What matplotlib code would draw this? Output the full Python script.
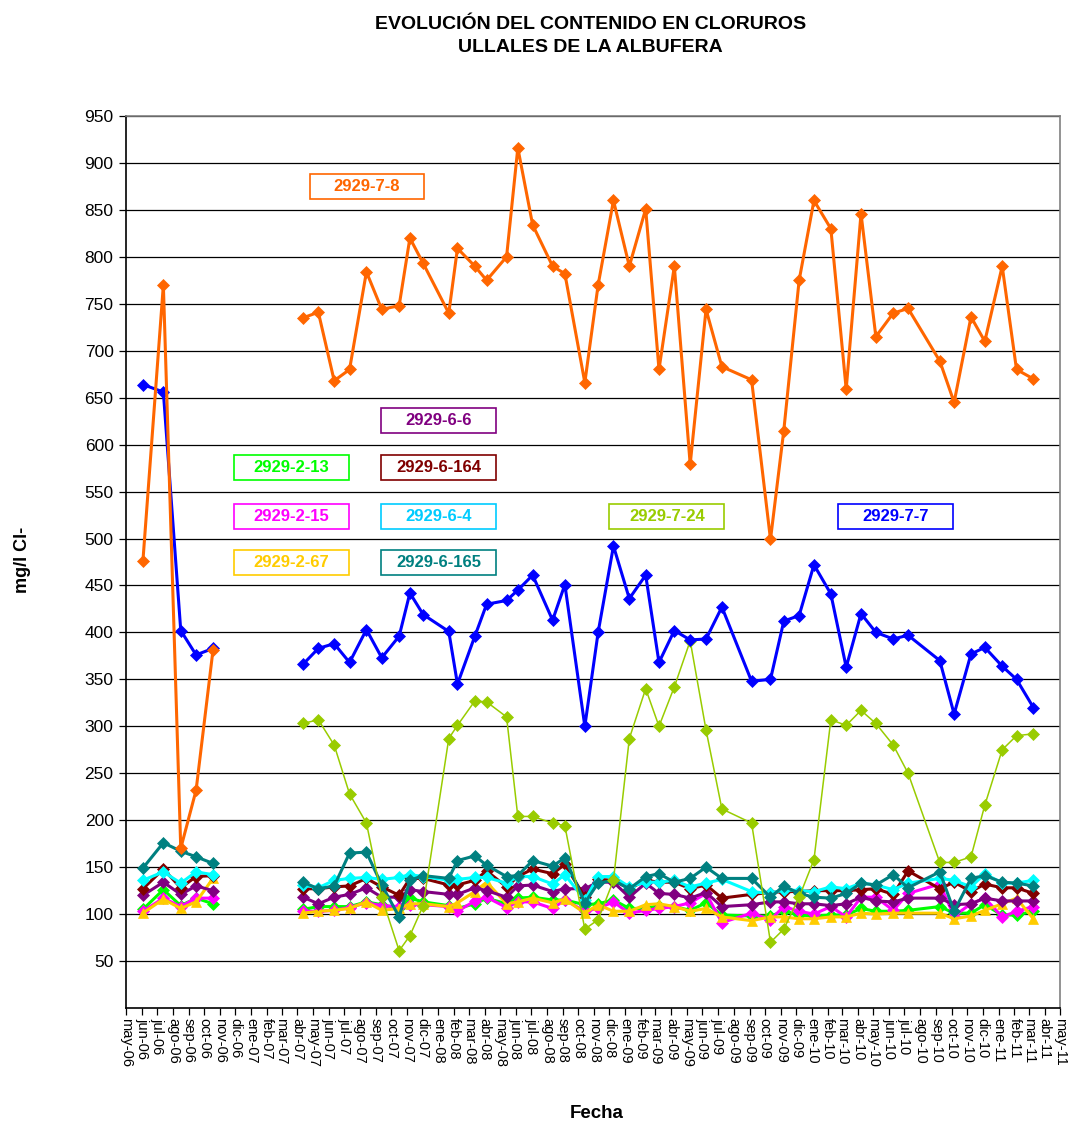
import numpy as np
import pandas as pd
import matplotlib
matplotlib.use('Agg')
import matplotlib.pyplot as plt
import matplotlib.dates as mdates
from matplotlib.patches import Rectangle

plt.rcParams['font.family'] = ['Liberation Sans', 'DejaVu Sans']

# fechas de muestreo
fechas = [
    '2006-06-03', '2006-07-13', '2006-08-16', '2006-09-15', '2006-10-18',
    '2007-04-12', '2007-05-12', '2007-06-12', '2007-07-12', '2007-08-14',
    '2007-09-13', '2007-10-17', '2007-11-07', '2007-12-03', '2008-01-22',
    '2008-02-08', '2008-03-13', '2008-04-05', '2008-05-14', '2008-06-05',
    '2008-07-04', '2008-08-12', '2008-09-05', '2008-10-14', '2008-11-09',
    '2008-12-09', '2009-01-09', '2009-02-10', '2009-03-08', '2009-04-07',
    '2009-05-08', '2009-06-08', '2009-07-09', '2009-09-05', '2009-10-12',
    '2009-11-07', '2009-12-07', '2010-01-05', '2010-02-07', '2010-03-09',
    '2010-04-07', '2010-05-06', '2010-06-09', '2010-07-08', '2010-09-08',
    '2010-10-06', '2010-11-08', '2010-12-05', '2011-01-08', '2011-02-05',
    '2011-03-10',
]

# cloruros (mg/l) por pozo
p_2_13 = [105, 126, 109, 117, 111,
          105, 108, 108, 108, 113, 110, 106, 117, 113, 109,
          106, 111, 117, 111, 117, 118, 115, 115, 110, 111,
          115, 106, 106, 109, 108, 104, 112, 99, 98, 98,
          103, 99, 98, 99, 99, 106, 103, 103, 104, 108,
          101, 101, 110, 99, 99, 103]
p_2_15 = [103, 117, 108, 117, 117,
          103, 103, 104, 107, 112, 109, 108, 110, 110, 108,
          103, 114, 118, 107, 113, 113, 106, 115, 103, 106,
          113, 101, 104, 106, 108, 112, 122, 91, 101, 94,
          108, 103, 100, 108, 97, 118, 118, 104, 122, 132,
          98, 111, 117, 97, 103, 108]
p_2_67 = [101, 116, 106, 113, 138,
          101, 103, 104, 106, 113, 104, 106, 111, 111, 108,
          112, 124, 134, 111, 113, 117, 112, 116, 101, 110,
          103, 103, 110, 111, 108, 103, 106, 97, 93, 97,
          97, 95, 95, 97, 97, 101, 100, 101, 101, 101,
          95, 98, 104, 111, 117, 95]
p_6_6 = [120, 134, 121, 130, 125,
         118, 111, 118, 121, 128, 118, 118, 126, 124, 121,
         121, 128, 125, 118, 130, 131, 124, 127, 127, 134,
         134, 118, 133, 122, 121, 117, 123, 108, 110, 113,
         113, 111, 111, 109, 111, 118, 114, 113, 117, 117,
         110, 111, 117, 114, 114, 114]
p_6_164 = [127, 148, 128, 140, 141,
           127, 127, 129, 130, 138, 129, 120, 138, 138, 131,
           131, 136, 146, 129, 140, 148, 143, 153, 118, 137,
           136, 127, 136, 134, 134, 127, 131, 117, 121, 123,
           124, 124, 125, 125, 125, 126, 127, 121, 146, 127,
           134, 124, 132, 128, 128, 122]
p_6_4 = [136, 145, 133, 145, 142,
         131, 128, 136, 138, 139, 137, 139, 142, 140, 136,
         137, 139, 139, 133, 140, 140, 132, 142, 115, 140,
         140, 129, 134, 134, 136, 129, 133, 137, 124, 122,
         126, 125, 124, 129, 127, 133, 131, 126, 133, 138,
         136, 129, 143, 133, 133, 136]
p_6_165 = [149, 176, 167, 161, 154,
           134, 127, 130, 165, 166, 131, 97, 136, 141, 138,
           157, 162, 152, 140, 141, 157, 151, 160, 112, 133,
           136, 127, 140, 143, 134, 138, 150, 138, 138, 118,
           130, 122, 118, 117, 122, 133, 131, 142, 128, 145,
           103, 138, 141, 134, 133, 130]
p_7_24 = [None, None, None, None, None,
          303, 307, 280, 228, 197, 118, 61, 77, 109, 287,
          301, 327, 326, 310, 204, 204, 197, 194, 84, 94,
          136, 287, 340, 300, 342, 391, 296, 212, 197, 70,
          84, 118, 158, 307, 301, 317, 303, 280, 250, 155,
          155, 161, 216, 275, 290, 292]
p_7_7 = [664, 656, 402, 376, 383,
         366, 383, 388, 368, 403, 373, 396, 442, 419, 401,
         345, 396, 430, 434, 445, 461, 413, 451, 300, 400,
         492, 436, 461, 368, 402, 392, 393, 427, 348, 350,
         412, 418, 472, 441, 363, 420, 400, 393, 397, 370,
         313, 377, 384, 364, 350, 320]
p_7_8 = [476, 770, 170, 232, 381,
         735, 741, 668, 680, 784, 744, 748, 820, 793, 740,
         809, 790, 775, 800, 916, 834, 790, 782, 666, 770,
         860, 790, 851, 680, 790, 579, 744, 683, 669, 499,
         615, 775, 860, 830, 659, 846, 715, 740, 745, 689,
         645, 736, 710, 790, 680, 670]

series = [
    ('2929-2-13', p_2_13, '#00FF00', '#00FF00', 'D', 2.2),
    ('2929-2-15', p_2_15, '#FF00FF', '#FF00FF', 'D', 2.2),
    ('2929-2-67', p_2_67, '#FFCC00', '#FFCC00', '^', 2.2),
    ('2929-6-6', p_6_6, '#800080', '#800080', 'D', 2.2),
    ('2929-6-164', p_6_164, '#800000', '#800000', 'D', 2.2),
    ('2929-6-4', p_6_4, '#00FFFF', '#00CCFF', 'D', 2.2),
    ('2929-6-165', p_6_165, '#008080', '#008080', 'D', 2.2),
    ('2929-7-24', p_7_24, '#99CC00', '#99CC00', 'D', 1.1),
    ('2929-7-7', p_7_7, '#0000FF', '#0000FF', 'D', 2.2),
    ('2929-7-8', p_7_8, '#FF6600', '#FF6600', 'D', 2.2),
]

# posicion de las etiquetas (fraccion de ejes)
etiquetas = {
    '2929-7-8': (0.258, 0.921),
    '2929-6-6': (0.335, 0.659),
    '2929-2-13': (0.177, 0.606),
    '2929-6-164': (0.335, 0.606),
    '2929-2-15': (0.177, 0.551),
    '2929-6-4': (0.335, 0.551),
    '2929-7-24': (0.579, 0.551),
    '2929-7-7': (0.824, 0.551),
    '2929-2-67': (0.177, 0.499),
    '2929-6-165': (0.335, 0.499),
}

meses = ['ene', 'feb', 'mar', 'abr', 'may', 'jun',
         'jul', 'ago', 'sep', 'oct', 'nov', 'dic']

x = mdates.date2num(pd.to_datetime(fechas))
cortes = np.where(np.diff(x) > 120)[0] + 1

fig = plt.figure(figsize=(10.68, 11.26), dpi=100)
ax = fig.add_axes([0.118, 0.1048, 0.8745, 0.7922])

for nombre, vals, color, ccol, marker, lw in series:
    v = np.array(vals, dtype=float)
    ms = 7.5 if marker == '^' else 6.0
    for xs, vs in zip(np.split(x, cortes), np.split(v, cortes)):
        ax.plot(xs, vs, color=color, lw=lw, marker=marker, ms=ms,
                markeredgewidth=0.5, markeredgecolor=color)

    cx, cy = etiquetas[nombre]
    w, h = 0.1231, 0.028
    ax.add_patch(Rectangle((cx - w / 2, cy - h / 2), w, h, transform=ax.transAxes,
                           facecolor='white', edgecolor=ccol, lw=1.2, zorder=5))
    ax.text(cx, cy, nombre, transform=ax.transAxes, ha='center', va='center',
            color=ccol, fontsize=12, fontweight='bold', zorder=6)

ax.set_ylim(0, 950)
ax.set_yticks(np.arange(50, 951, 50))
ax.yaxis.grid(True, color='black', lw=0.9)
ax.set_axisbelow(True)

ax.set_xlim(mdates.date2num(pd.Timestamp('2006-05-01')),
            mdates.date2num(pd.Timestamp('2011-05-01')))
ax.xaxis.set_major_locator(mdates.MonthLocator())
ax.xaxis.set_major_formatter(matplotlib.ticker.FuncFormatter(
    lambda v, pos: '%s-%02d' % (meses[mdates.num2date(v).month - 1],
                                mdates.num2date(v).year % 100)))

ax.tick_params(axis='x', labelsize=10.5, labelrotation=-90, length=5, width=0.9, pad=2)
ax.tick_params(axis='y', labelsize=12.5, length=5, width=0.9, pad=4)
for lab in ax.get_xticklabels():
    lab.set_va('top')
    lab.set_ha('center')

for lado in ['top', 'right']:
    ax.spines[lado].set_color('#808080')
    ax.spines[lado].set_linewidth(1.2)
for lado in ['left', 'bottom']:
    ax.spines[lado].set_color('black')
    ax.spines[lado].set_linewidth(1.2)

fig.text(0.553, 0.986, 'EVOLUCIÓN DEL CONTENIDO EN CLORUROS\nULLALES DE LA ALBUFERA',
         ha='center', va='top', fontsize=14, fontweight='bold', linespacing=1.45)
fig.text(0.021, 0.503, 'mg/l Cl-', rotation=90, ha='center', va='center',
         fontsize=13, fontweight='bold')
fig.text(0.559, 0.011, 'Fecha', ha='center', va='center',
         fontsize=13.5, fontweight='bold')

fig.savefig('out.png', dpi=100)
